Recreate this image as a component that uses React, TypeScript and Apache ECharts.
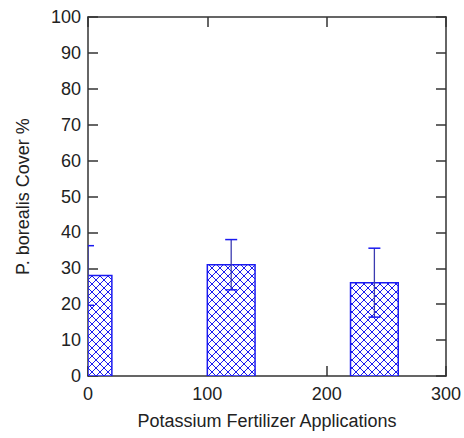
import React, { useEffect, useRef } from "react";
import * as echarts from "echarts";

const xPositions = [0, 120, 240];
const coverMeans = [28, 31, 26];
const errorUpper = [36.3, 38, 35.6];
const errorLower = [19.7, 24, 16.4];
const barWidthUnits = 40;
const xTicks = [0, 100, 200, 300];
const yTicks = [0, 10, 20, 30, 40, 50, 60, 70, 80, 90, 100];

const BLUE = "#1a1af0";
const AXIS = "#333333";
const TEXT = "#222222";
const FONT = "Liberation Sans, Arial, sans-serif";

function hatchLines(x0: number, y0: number, x1: number, y1: number, step: number) {
  const out: any[] = [];
  const style = { stroke: BLUE, lineWidth: 1, fill: null };
  const kStart = Math.floor((x0 - y1) / step) * step;
  for (let k = kStart; k <= x1 - y0; k += step) {
    const xa = Math.max(x0, y0 + k);
    const xb = Math.min(x1, y1 + k);
    if (xb > xa) {
      out.push({ type: "line", shape: { x1: xa, y1: xa - k, x2: xb, y2: xb - k }, style, silent: true });
    }
  }
  const k2Start = Math.floor((x0 + y0) / step) * step;
  for (let k = k2Start; k <= x1 + y1; k += step) {
    const xa = Math.max(x0, k - y1);
    const xb = Math.min(x1, k - y0);
    if (xb > xa) {
      out.push({ type: "line", shape: { x1: xa, y1: k - xa, x2: xb, y2: k - xb }, style, silent: true });
    }
  }
  return out;
}

export default function App() {
  const ref = useRef<HTMLDivElement>(null);
  useEffect(() => {
    if (!ref.current) return;
    const chart = echarts.init(ref.current, undefined, { renderer: "svg" });
    const barData = xPositions.map((x, i) => [x, coverMeans[i]]);
    const errData = xPositions.map((x, i) => [x, errorLower[i], errorUpper[i]]);

    const axisCommon = {
      axisLine: { show: true, onZero: false, lineStyle: { color: AXIS, width: 1.5 } },
      axisTick: { show: true, inside: true, length: 10, lineStyle: { color: AXIS, width: 1.5 } },
      splitLine: { show: false },
    };

    chart.setOption({
      animation: false,
      backgroundColor: "#ffffff",
      grid: { left: 88, right: 17, top: 17, bottom: 62, containLabel: false },
      xAxis: [
        {
          type: "value",
          min: 0,
          max: 300,
          interval: 100,
          position: "bottom",
          ...axisCommon,
          axisLabel: { color: TEXT, fontSize: 18, fontFamily: FONT, margin: 9 },
          name: "Potassium Fertilizer Applications",
          nameLocation: "middle",
          nameGap: 36,
          nameTextStyle: { color: TEXT, fontSize: 18, fontFamily: FONT },
        },
        {
          type: "value",
          min: 0,
          max: 300,
          interval: 100,
          position: "top",
          ...axisCommon,
          axisLabel: { show: false },
        },
      ],
      yAxis: [
        {
          type: "value",
          min: 0,
          max: 100,
          interval: 10,
          position: "left",
          ...axisCommon,
          axisLabel: { color: TEXT, fontSize: 18, fontFamily: FONT, margin: 7 },
          name: "P. borealis Cover %",
          nameLocation: "middle",
          nameGap: 56,
          nameTextStyle: { color: TEXT, fontSize: 18, fontFamily: FONT },
        },
        {
          type: "value",
          min: 0,
          max: 100,
          interval: 10,
          position: "right",
          ...axisCommon,
          axisLabel: { show: false },
        },
      ],
      series: [
        {
          type: "custom",
          clip: true,
          data: barData,
          renderItem: (params: any, api: any) => {
            const x = api.value(0);
            const v = api.value(1);
            const p0 = api.coord([x - barWidthUnits / 2, v]);
            const p1 = api.coord([x + barWidthUnits / 2, 0]);
            const cs = params.coordSys;
            const x0 = Math.max(p0[0], cs.x);
            const x1 = Math.min(p1[0], cs.x + cs.width);
            const y0 = p0[1];
            const y1 = p1[1];
            return {
              type: "group",
              children: [
                { type: "rect", shape: { x: x0, y: y0, width: x1 - x0, height: y1 - y0 }, style: { fill: "#ffffff" } },
                ...hatchLines(x0, y0, x1, y1, 8),
                { type: "rect", shape: { x: x0, y: y0, width: x1 - x0, height: y1 - y0 }, style: { fill: null, stroke: BLUE, lineWidth: 1.5 } },
              ],
            };
          },
        },
        {
          type: "custom",
          clip: true,
          data: errData,
          renderItem: (params: any, api: any) => {
            const x = api.value(0);
            const lo = api.coord([x, api.value(1)]);
            const hi = api.coord([x, api.value(2)]);
            const cw = 6;
            return {
              type: "group",
              children: [
                { type: "line", shape: { x1: lo[0], y1: lo[1], x2: hi[0], y2: hi[1] }, style: { stroke: "#3b3bb0", lineWidth: 1.3 } },
                { type: "line", shape: { x1: hi[0] - cw, y1: hi[1], x2: hi[0] + cw, y2: hi[1] }, style: { stroke: BLUE, lineWidth: 1.5 } },
                { type: "line", shape: { x1: lo[0] - cw, y1: lo[1], x2: lo[0] + cw, y2: lo[1] }, style: { stroke: BLUE, lineWidth: 1.5 } },
              ],
            };
          },
        },
      ],
    });
    return () => chart.dispose();
  }, []);
  return <div ref={ref} style={{ width: 464, height: 438, position: "absolute", left: 0, top: 0 }} />;
}
